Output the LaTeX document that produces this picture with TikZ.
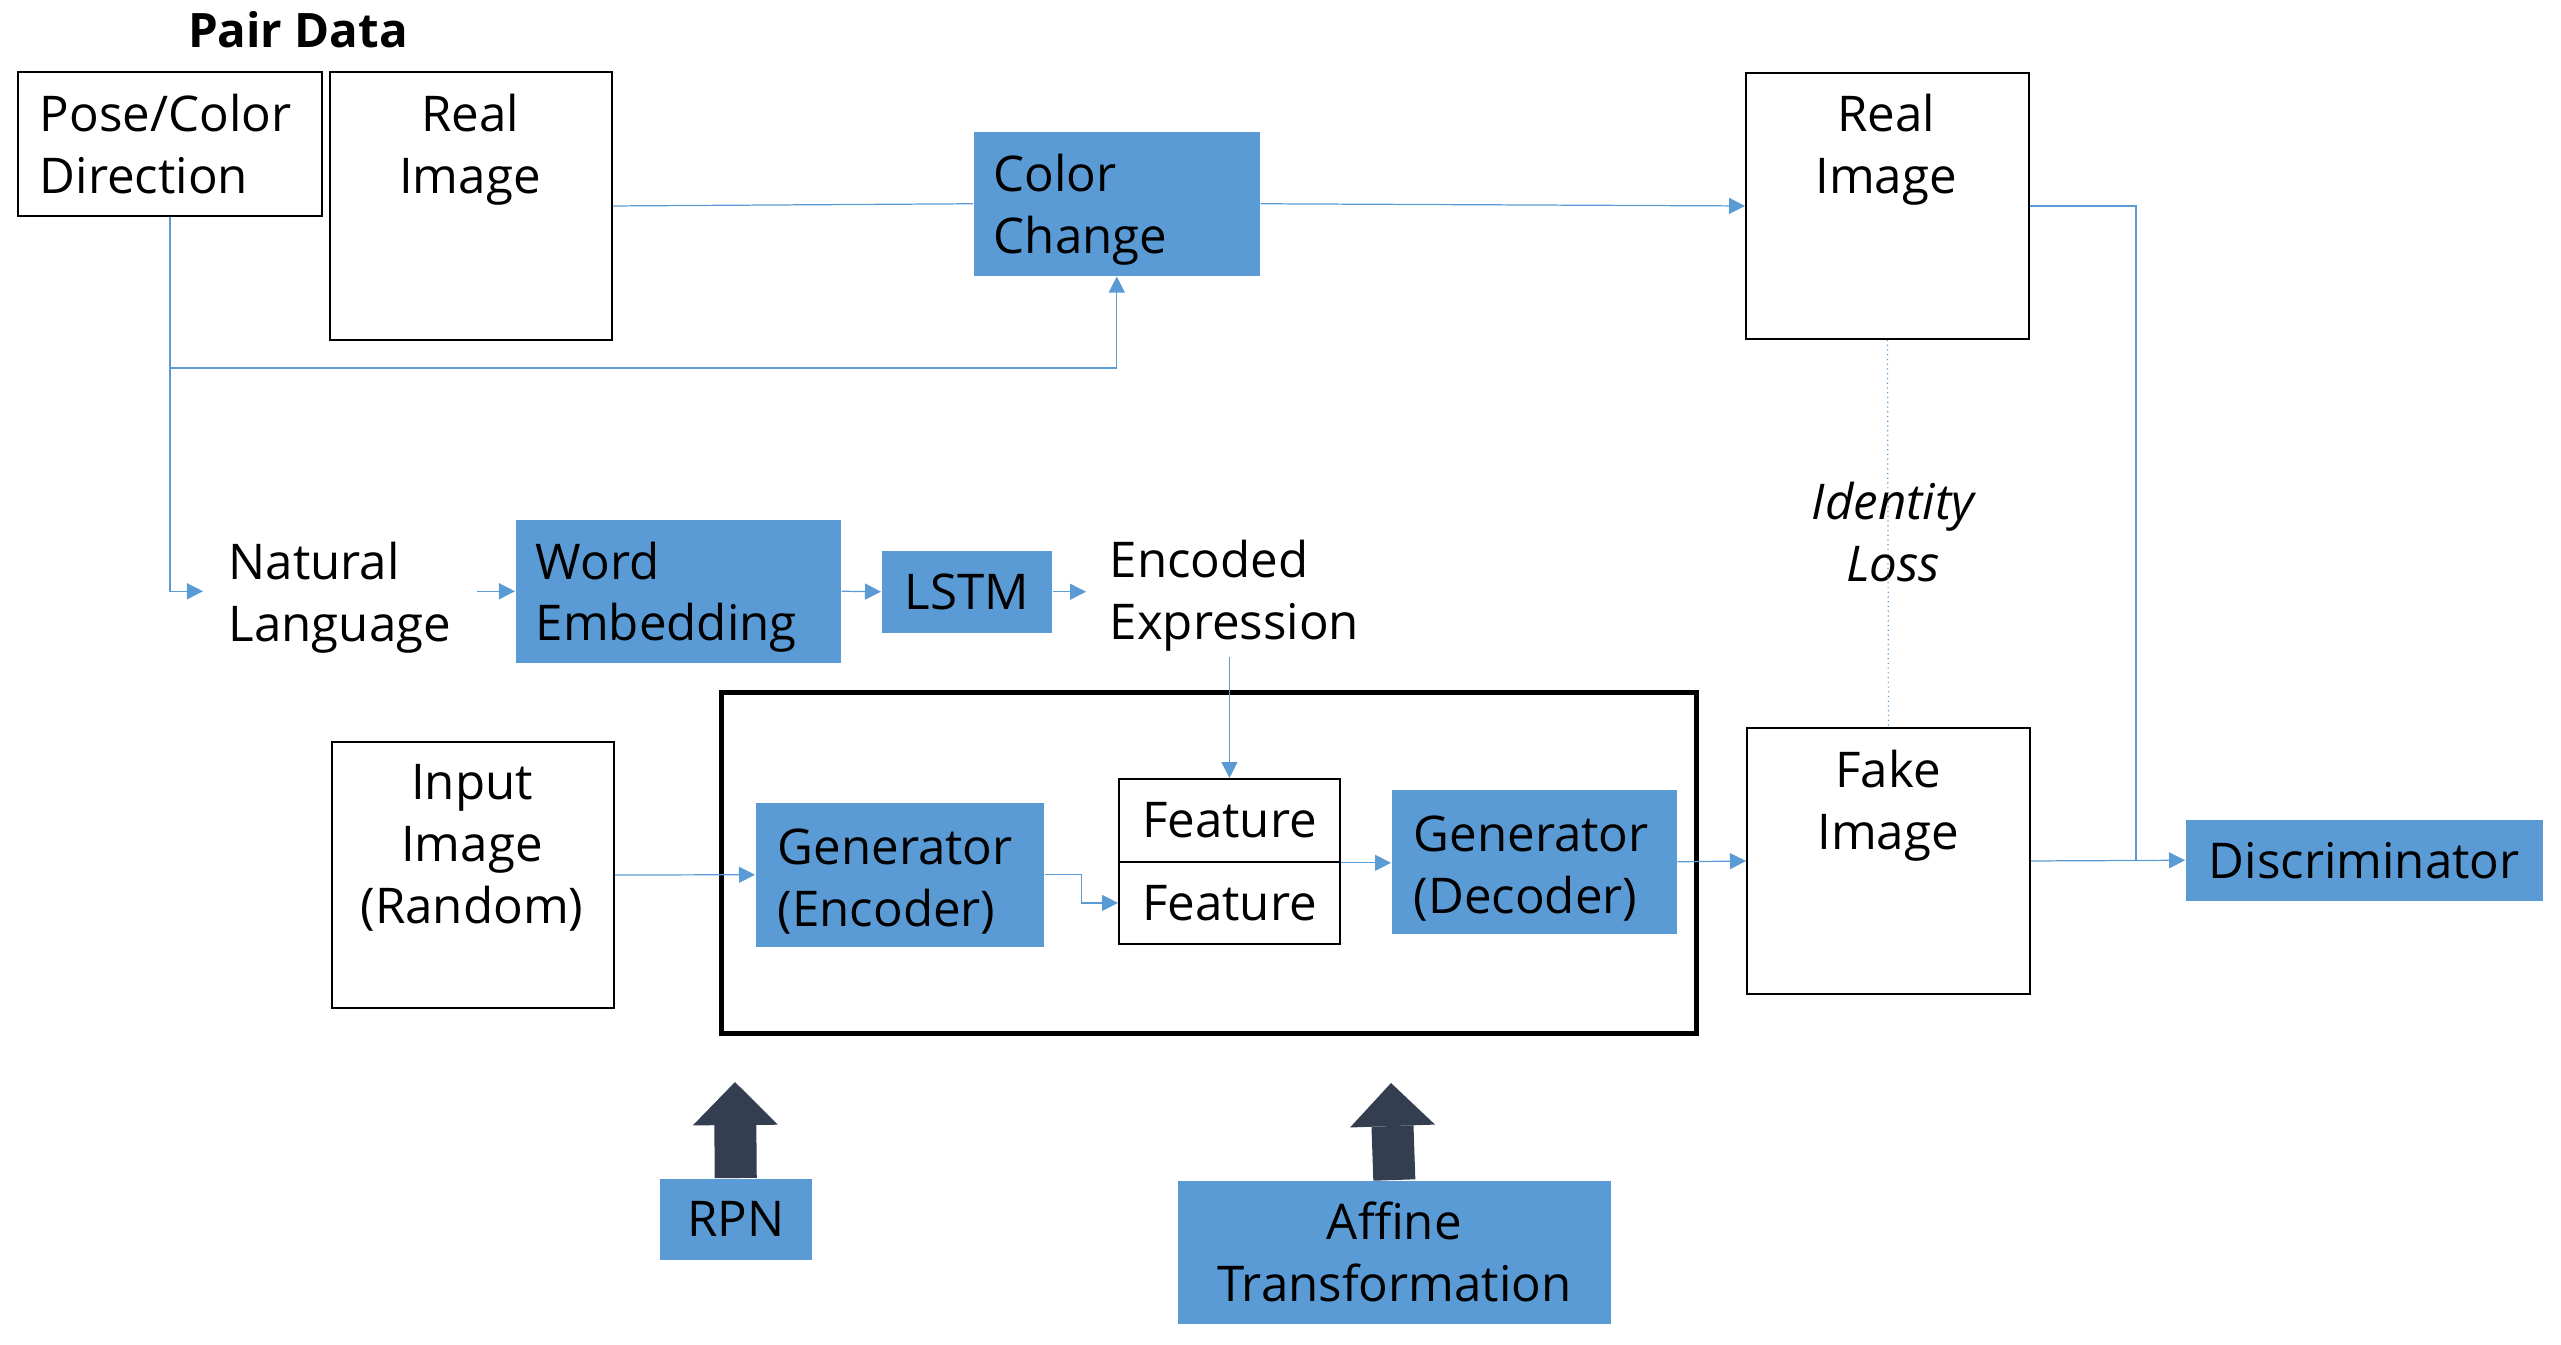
\documentclass[tikz,border=0pt]{standalone}
\usepackage{fontspec}
\setmainfont{Open Sans}
\usetikzlibrary{arrows.meta}

\definecolor{boxblue}{HTML}{5B9BD5}
\definecolor{slate}{HTML}{333F50}

\tikzset{
	imgbox/.style={draw, line width=0.5pt, anchor=north west, inner sep=0pt},
	bluebox/.style={fill=boxblue, anchor=north west, inner xsep=0.2cm, inner ysep=0pt, align=center},
	bluetext/.style={bluebox, align=left, text height=14pt},
	txt/.style={inner sep=0pt, align=center},
	link/.style={draw=boxblue, line width=0.35pt, -{Triangle[length=0.16cm,width=0.16cm]}},
	bigarrow/.style={draw=slate, line width=0.42cm, -{Triangle[length=0.43cm,width=0.85cm,line width=0pt]}}
}

\begin{document}
\begin{tikzpicture}[x=0.01cm, y=-0.01cm, every node/.append style={font=\fontsize{14}{17.6}\selectfont}]
	\useasboundingbox (0,0) rectangle (2561,1344);

	\node[txt, font=\fontsize{13.5}{16}\selectfont\bfseries] (pair) at (298,30) {Pair Data};
	\node[imgbox, minimum width=3.04cm, minimum height=1.44cm, text width=2.6cm, inner xsep=0.22cm, align=left] (pose) at (17,71) {Pose/Color\\Direction};
	\node[imgbox, minimum width=2.82cm, minimum height=2.68cm] (real1) at (329,71) {};
	\node[txt] (real1txt) at (470,150) {Real\\Image};
	\node[bluetext, minimum width=2.86cm, minimum height=1.44cm, text width=2.46cm] (color) at (973,131) {Color\\Change};
	\node[imgbox, minimum width=2.83cm, minimum height=2.66cm] (real2) at (1745,72) {};
	\node[txt] (real2txt) at (1886,150) {Real\\Image};

	\node[txt, align=left, anchor=west, inner xsep=0.25cm] (natlang) at (203,598) {Natural\\Language};
	\node[bluetext, minimum width=3.25cm, minimum height=1.43cm, text width=2.85cm] (emb) at (515,519) {Word\\Embedding};
	\node[bluebox, minimum width=1.7cm, minimum height=0.82cm] (lstm) at (881,550) {LSTM};
	\node[txt, align=left, anchor=west, inner xsep=0.23cm, inner ysep=0.05cm] (encexp) at (1086,596) {Encoded\\Expression};
	\node[txt, font=\fontsize{14}{17.6}\selectfont\itshape] (idloss) at (1893,532) {Identity\\Loss};

	\node[draw, line width=1.42pt, minimum width=9.74cm, minimum height=3.41cm, anchor=north west, inner sep=0pt] (frame) at (719,690) {};
	\node[imgbox, minimum width=2.82cm, minimum height=2.66cm] (input) at (331,741) {};
	\node[txt] (inputtxt) at (472,848) {Input\\Image\\(Random)};
	\node[bluetext, minimum width=2.88cm, minimum height=1.44cm, text width=2.44cm, inner xsep=0.22cm] (enc) at (755,802) {Generator\\(Encoder)};
	\node[imgbox, minimum width=2.21cm, minimum height=0.83cm] (feat1) at (1118,778) {Feature};
	\node[imgbox, minimum width=2.21cm, minimum height=0.82cm] (feat2) at (1118,861) {Feature};
	\node[bluetext, minimum width=2.85cm, minimum height=1.44cm, text width=2.41cm, inner xsep=0.22cm] (dec) at (1391,789) {Generator\\(Decoder)};
	\node[imgbox, minimum width=2.83cm, minimum height=2.66cm] (fake) at (1746,727) {};
	\node[txt] (faketxt) at (1888,806) {Fake\\Image};
	\node[bluebox, minimum width=3.57cm, minimum height=0.81cm] (disc) at (2185,819) {Discriminator};

	\node[bluebox, minimum width=1.52cm, minimum height=0.81cm] (rpn) at (659,1178) {RPN};
	\node[bluebox, minimum width=4.33cm, minimum height=1.43cm] (affine) at (1177,1180) {Affine\\Transformation};

	\coordinate (branch) at (pose.south |- 0,368);
	\coordinate (merge) at (2136,860);
	\coordinate (rpntip) at (735,1082);
	\coordinate (affinetip) at (1391,1083);

	\draw[link] (pose.south) |- (natlang.west |- emb.west);
	\draw[link] (branch) -| (color.south);
	\draw[link, -] (real1.east) -- (color.west);
	\draw[link] (color.east) -- (real2.west);
	\draw[link, -] (real2.east) -| (merge);
	\draw[link, densely dotted, -] (real2.south) -- (fake.north);
	\draw[link] (natlang.east |- emb.west) -- (emb.west);
	\draw[link] (emb.east) -- (lstm.west);
	\draw[link] (lstm.east) -- (encexp.west |- lstm.east);
	\draw[link] (encexp.south -| feat1.north) -- (feat1.north);
	\draw[link] (input.east) -- (enc.west);
	\draw[link] (enc.east) -- ++(37,0) |- (feat2.west);
	\draw[link] (feat1.south east) -- (feat1.south east -| dec.west);
	\draw[link] (dec.east) -- (fake.west);
	\draw[link] (fake.east) -- (disc.west);
	\draw[bigarrow] (rpn.north) -- (rpntip);
	\draw[bigarrow] (affine.north) -- (affinetip);
\end{tikzpicture}
\end{document}
